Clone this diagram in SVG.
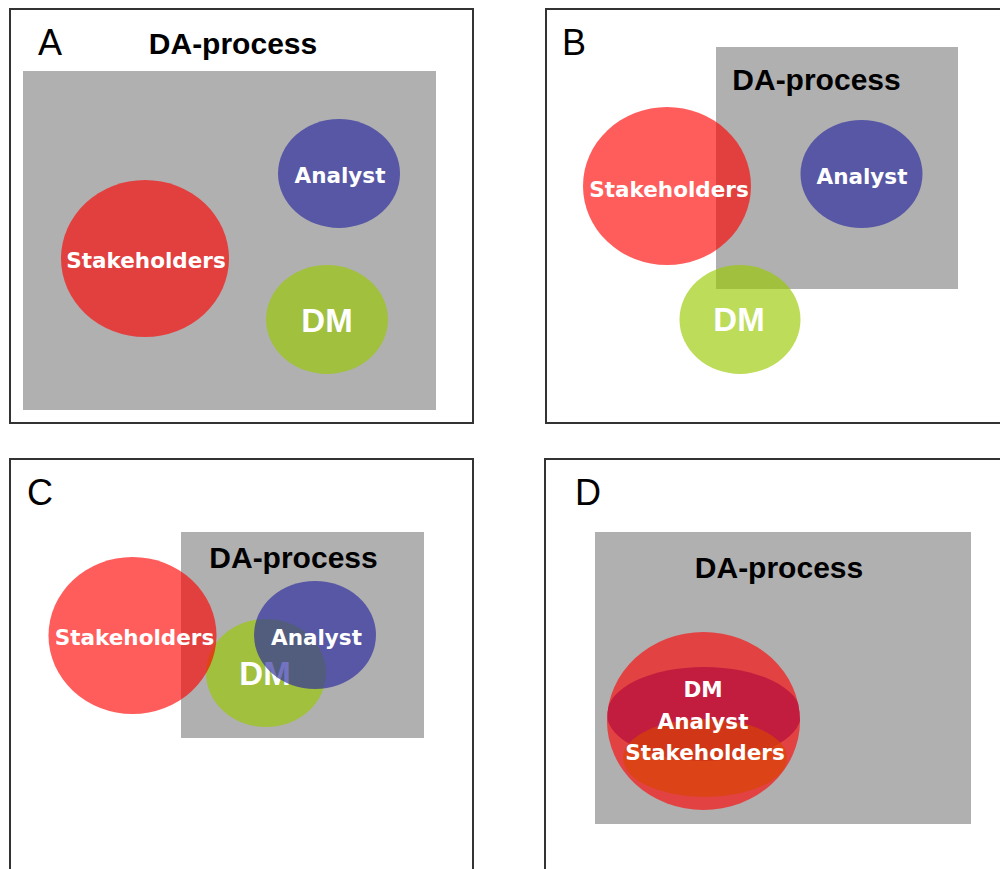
<svg xmlns="http://www.w3.org/2000/svg" width="1000" height="869" viewBox="0 0 1000 869">
<defs>
<style>
.frame{fill:#fff;stroke:#333;stroke-width:2}
.proc{fill:#b0b0b0}
.red{fill:#ff0000;fill-opacity:0.64}
.green{fill:#9ac900;fill-opacity:0.65}
.blue{fill:#2828a0;fill-opacity:0.65}
.lbl{font-family:"Liberation Sans",Arial,sans-serif;font-size:36px;fill:#000}
.ttl{font-family:"Liberation Sans",Arial,sans-serif;font-size:30px;font-weight:bold;fill:#000;text-anchor:middle}
.nt{font-family:"DejaVu Sans",Verdana,sans-serif;font-size:21.5px;font-weight:bold;fill:#fff;text-anchor:middle}
.dm{font-family:"Liberation Sans",Arial,sans-serif;font-size:33px;font-weight:bold;fill:#fff;text-anchor:middle}
</style>
<clipPath id="clipD"><ellipse cx="703.5" cy="721" rx="96.5" ry="89"/></clipPath>
</defs>
<rect width="1000" height="869" fill="#fff"/>

<g id="panelA">
<rect class="frame" x="10" y="9" width="463" height="414"/>
<text class="lbl" x="38" y="55">A</text>
<g id="A-process"><rect class="proc" x="23" y="71" width="413" height="339"/><text class="ttl" x="233" y="54">DA-process</text></g>
<g id="A-stakeholders"><ellipse class="red" cx="145" cy="258.5" rx="84" ry="78.5"/><text class="nt" x="146" y="268">Stakeholders</text></g>
<g id="A-analyst"><ellipse class="blue" cx="339" cy="173.5" rx="61" ry="54.5"/><text class="nt" x="340" y="183">Analyst</text></g>
<g id="A-dm"><ellipse class="green" cx="327" cy="319.5" rx="61" ry="54.5"/><text class="dm" x="327" y="332">DM</text></g>
</g>

<g id="panelB">
<rect class="frame" x="546" y="9" width="470" height="414"/>
<text class="lbl" x="562" y="55">B</text>
<g id="B-process"><rect class="proc" x="716" y="47" width="242" height="242"/><text class="ttl" x="816.5" y="90">DA-process</text></g>
<g id="B-stakeholders"><ellipse class="red" cx="667" cy="186" rx="84" ry="79"/><text class="nt" x="669" y="196.5">Stakeholders</text></g>
<g id="B-analyst"><ellipse class="blue" cx="861.5" cy="174" rx="61" ry="54"/><text class="nt" x="862" y="183.5">Analyst</text></g>
<g id="B-dm"><ellipse class="green" cx="740" cy="319.5" rx="60.5" ry="54.5"/><text class="dm" x="739" y="331">DM</text></g>
</g>

<g id="panelC">
<rect class="frame" x="10" y="459" width="463" height="420"/>
<text class="lbl" x="27" y="505">C</text>
<g id="C-process"><rect class="proc" x="181" y="532" width="243" height="206"/><text class="ttl" x="293.5" y="568">DA-process</text></g>
<g id="C-dm"><ellipse class="green" cx="266" cy="673" rx="60" ry="54"/><text class="dm" x="265" y="685">DM</text></g>
<g id="C-stakeholders"><ellipse class="red" cx="132.5" cy="635.5" rx="84" ry="78.5"/><text class="nt" x="134.5" y="645">Stakeholders</text></g>
<g id="C-analyst"><ellipse class="blue" cx="315" cy="635" rx="61" ry="54"/><text class="nt" x="316.5" y="645">Analyst</text></g>
</g>

<g id="panelD">
<rect class="frame" x="545" y="459" width="470" height="420"/>
<text class="lbl" x="575" y="505">D</text>
<g id="D-process"><rect class="proc" x="595" y="532" width="376" height="292"/><text class="ttl" x="779" y="578">DA-process</text></g>
<g id="D-roles">
<ellipse cx="703.5" cy="721" rx="96.5" ry="89" fill="#e24242"/>
<g clip-path="url(#clipD)">
<ellipse cx="704" cy="714" rx="97" ry="47" fill="#c21d3f"/>
<ellipse cx="705" cy="758" rx="82" ry="39" fill="#d94500" fill-opacity="0.65"/>
</g>
<text class="nt" x="703" y="697">DM</text>
<text class="nt" x="703" y="728.5">Analyst</text>
<text class="nt" x="705" y="760">Stakeholders</text>
</g>
</g>
</svg>
